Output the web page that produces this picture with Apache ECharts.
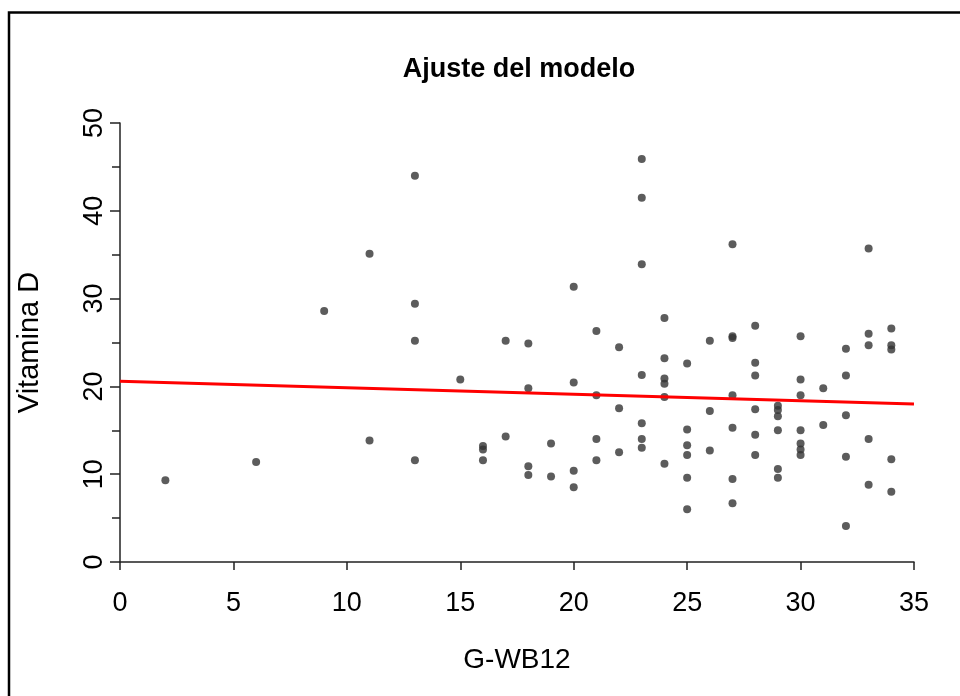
<!DOCTYPE html>
<html>
<head>
<meta charset="utf-8">
<title>Ajuste del modelo</title>
<script src="https://cdn.jsdelivr.net/npm/echarts@6/dist/echarts.min.js"></script>
<style>
  html, body { margin: 0; padding: 0; background: #fff; }
  #chart { width: 960px; height: 696px; }
</style>
</head>
<body>
<div id="chart"></div>
<script>
// G-WB12 (x) y Vitamina D (y)
const gwb12 = [
  2, 6, 9, 11, 11,
  13, 13, 13, 13,
  15, 16, 16, 16, 17, 17,
  18, 18, 18, 18, 19, 19,
  20, 20, 20, 20, 21, 21, 21, 21,
  22, 22, 22,
  23, 23, 23, 23, 23, 23, 23,
  24, 24, 24, 24, 24, 24,
  25, 25, 25, 25, 25, 25,
  26, 26, 26,
  27, 27, 27, 27, 27, 27, 27,
  28, 28, 28, 28, 28, 28,
  29, 29, 29, 29, 29, 29,
  30, 30, 30, 30, 30, 30, 30,
  31, 31,
  32, 32, 32, 32, 32,
  33, 33, 33, 33, 33,
  34, 34, 34, 34, 34
]
const vitaminaD = [
  9.3, 11.4, 28.6, 35.1, 13.85,
  44.0, 29.4, 25.2, 11.6,
  20.8, 13.2, 12.8, 11.6, 25.2, 14.3,
  24.9, 19.8, 10.9, 9.9, 13.5, 9.75,
  31.35, 20.45, 10.4, 8.5, 26.3, 19.0, 14.0, 11.6,
  24.45, 17.5, 12.5,
  45.9, 41.5, 33.9, 21.3, 15.8, 14.0, 13.0,
  27.8, 23.2, 20.9, 20.3, 18.8, 11.2,
  22.6, 15.1, 13.3, 12.2, 9.6, 6.0,
  25.2, 17.2, 12.7,
  36.2, 25.7, 25.5, 19.0, 15.3, 9.45, 6.7,
  26.9, 22.7, 21.25, 17.4, 14.5, 12.2,
  17.8, 17.3, 16.6, 15.0, 10.6, 9.6,
  25.7, 20.8, 19.0, 15.0, 13.5, 12.8, 12.2,
  19.8, 15.6,
  24.3, 21.25, 16.7, 12.0, 4.1,
  35.7, 26.0, 24.7, 14.0, 8.8,
  26.6, 24.7, 24.2, 11.7, 8.0
]

// recta ajustada
const fitX = [0, 35]
const fitY = [20.6, 18.0]

const xTicks = [0, 5, 10, 15, 20, 25, 30, 35]
const yTicks = [0, 10, 20, 30, 40, 50]

const font = "'Liberation Sans', Arial, sans-serif"

const chart = echarts.init(document.getElementById('chart'))

const points = gwb12.map((x, i) => [x, vitaminaD[i]])
const fitLine = fitX.map((x, i) => [x, fitY[i]])

const option = {
  backgroundColor: '#fff',
  animation: false,
  title: {
    text: 'Ajuste del modelo',
    left: 514,
    top: 51,
    textAlign: 'center',
    textStyle: { fontFamily: font, fontSize: 27, fontWeight: 'bold', color: '#000' }
  },
  graphic: [
    {
      type: 'rect',
      shape: { x: 9, y: 12.5, width: 1000, height: 1000 },
      style: { fill: 'none', stroke: '#000', lineWidth: 2.5 },
      silent: true
    }
  ],
  grid: { left: 120, right: 46, top: 123, bottom: 134 },
  xAxis: {
    type: 'value',
    min: xTicks[0],
    max: xTicks[xTicks.length - 1],
    interval: 5,
    name: 'G-WB12',
    nameLocation: 'middle',
    nameGap: 84,
    nameTextStyle: { fontFamily: font, fontSize: 28, color: '#000' },
    axisLine: { onZero: false, lineStyle: { color: '#222', width: 1.5 } },
    axisTick: { length: 8, lineStyle: { color: '#222', width: 1.5 } },
    axisLabel: { margin: 28, fontFamily: font, fontSize: 27, color: '#000' },
    splitLine: { show: false }
  },
  yAxis: {
    type: 'value',
    min: yTicks[0],
    max: yTicks[yTicks.length - 1],
    interval: 10,
    name: 'Vitamina D',
    nameLocation: 'middle',
    nameRotate: 90,
    nameGap: 76,
    nameTextStyle: { fontFamily: font, fontSize: 29, color: '#000' },
    axisLine: { show: true, onZero: false, lineStyle: { color: '#222', width: 1.5 } },
    axisTick: { show: true, length: 10, lineStyle: { color: '#222', width: 1.5 } },
    minorTick: { show: true, splitNumber: 2, length: 8, lineStyle: { color: '#222', width: 1.5 } },
    axisLabel: { rotate: 90, margin: 12, fontFamily: font, fontSize: 27, color: '#000' },
    splitLine: { show: false }
  },
  series: [
    {
      name: 'Vitamina D',
      type: 'scatter',
      data: points,
      symbol: 'circle',
      symbolSize: 8,
      itemStyle: { color: '#333' },
      z: 3
    },
    {
      name: 'Ajuste',
      type: 'line',
      data: fitLine,
      symbol: 'none',
      lineStyle: { color: '#ff0000', width: 3 },
      z: 4
    }
  ]
}

chart.setOption(option)
window.addEventListener('resize', () => chart.resize())
</script>
</body>
</html>
